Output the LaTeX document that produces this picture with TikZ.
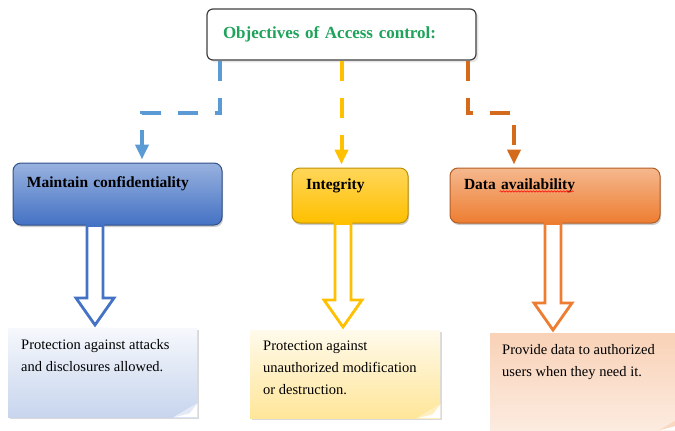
\documentclass[tikz,border=0pt]{standalone}
\usepackage{fontspec}
\setmainfont{Liberation Serif}
\usetikzlibrary{arrows.meta,shadows,calc,decorations.pathmorphing}

\definecolor{titlegreen}{HTML}{1FA35B}
\definecolor{blueline}{HTML}{5B9BD5}
\definecolor{yellowline}{HTML}{FFC000}
\definecolor{orangeline}{HTML}{D46B1C}
\definecolor{bluedark}{HTML}{4472C4}
\definecolor{orangedark}{HTML}{ED7D31}

\newcommand\notepar[3]{\parbox[c][#2][t]{#1}{\raggedright #3}}
\newcommand\pagefold[2]{%
  \fill[white] (#1.south east) -- ([xshift=-24pt]#1.south east) -- ([yshift=14pt]#1.south east) -- cycle;
  \fill[#2] ([xshift=-24pt]#1.south east) -- ([yshift=14pt]#1.south east) -- ([xshift=-8pt,yshift=4pt]#1.south east) -- cycle;}
\newcommand\hollowarrow[3]{%
  \draw[#1,line width=2.8pt,fill=white,line join=miter] let \p1=(#2),\p2=(#3) in
    (\x1-8pt,\y1) -- (\x1+8pt,\y1) -- (\x1+8pt,\y2+30pt) -- (\x1+19pt,\y2+30pt) -- (\x1,\y2+3pt)
    -- (\x1-19pt,\y2+30pt) -- (\x1-8pt,\y2+30pt) -- cycle;}

\begin{document}
\begin{tikzpicture}[x=1pt,y=-1pt,
    topic/.style={rectangle,rounded corners=8pt,inner xsep=14pt,align=left,line width=1pt,
      font=\bfseries\fontsize{15.5}{18}\selectfont,text height=11pt,text depth=24pt,
      drop shadow={opacity=0.4,shadow xshift=1pt,shadow yshift=-2pt}},
    notebox/.style={rectangle,anchor=north west,inner xsep=13pt,inner ysep=11pt,
      font=\fontsize{14.5}{22}\selectfont,
      drop shadow={opacity=0.3,shadow xshift=2pt,shadow yshift=-2pt}},
    dashlink/.style={line width=4pt,dash pattern=on 20pt off 17pt,shorten >=3pt,
      -{Triangle[width=13pt,length=15pt]}}]
    \useasboundingbox (0,0) rectangle (675,431);

    \path (341.5,34.5) node[draw=black!75,fill=white,rounded corners=6pt,line width=1.2pt,
      minimum height=51pt,text width=237pt,inner xsep=16pt,align=left,text=titlegreen,
      font=\bfseries\fontsize{17}{20}\selectfont,drop shadow={opacity=0.2}] (obj) {Objectives of Access control:};

    \path (117.5,194) node[topic,draw=bluedark!70!black,top color=bluedark!55,bottom color=bluedark,
      minimum height=62pt,text width=181pt] (cbox) {Maintain confidentiality};
    \path (350,195.5) node[topic,draw=yellowline!75!black,top color=yellowline!65,bottom color=yellowline,
      minimum height=55pt,text width=88pt] (ibox) {Integrity};
    \path (555,195.5) node[topic,draw=orangedark!75!black,top color=orangedark!55,bottom color=orangedark,
      minimum height=55pt,text width=182pt] (dbox) {Data availability};
    \draw[red,line width=0.5pt,decorate,decoration={snake,amplitude=0.7pt,segment length=3pt}]
      ([xshift=50pt,yshift=4pt]dbox.west) -- ([xshift=124pt,yshift=4pt]dbox.west);

    \draw[dashlink,blueline] ([xshift=14pt]obj.south west) -- ++(0,52) -| ([xshift=24.5pt]cbox.north);
    \draw[dashlink,yellowline] (obj.south) -- (obj.south |- ibox.north);
    \draw[dashlink,orangeline] ([xshift=-9pt]obj.south east) -- ++(0,52) -| ([xshift=-41pt]dbox.north);

    \path (8,328) node[notebox,top color=bluedark!5,bottom color=bluedark!30] (cnote)
      {\notepar{163pt}{67pt}{Protection against attacks\\and disclosures allowed.}};
    \path (250,330) node[notebox,top color=yellowline!8,bottom color=yellowline!40] (inote)
      {\notepar{164pt}{66pt}{Protection against\\unauthorized modification\\or destruction.}};
    \path (490,333) node[notebox,inner xsep=12pt,top color=orangedark!35,bottom color=orangedark!15] (dnote)
      {\notepar{168pt}{75pt}{Provide data to authorized\\users when they need it.}};
    \pagefold{cnote}{bluedark!15}
    \pagefold{inote}{yellowline!25}
    \pagefold{dnote}{orangedark!30}

    \hollowarrow{bluedark}{[xshift=-22.5pt]cbox.south}{cnote.north}
    \hollowarrow{yellowline}{[xshift=-7pt]ibox.south}{inote.north}
    \hollowarrow{orangedark}{[xshift=-2pt]dbox.south}{dnote.north}
\end{tikzpicture}
\end{document}
